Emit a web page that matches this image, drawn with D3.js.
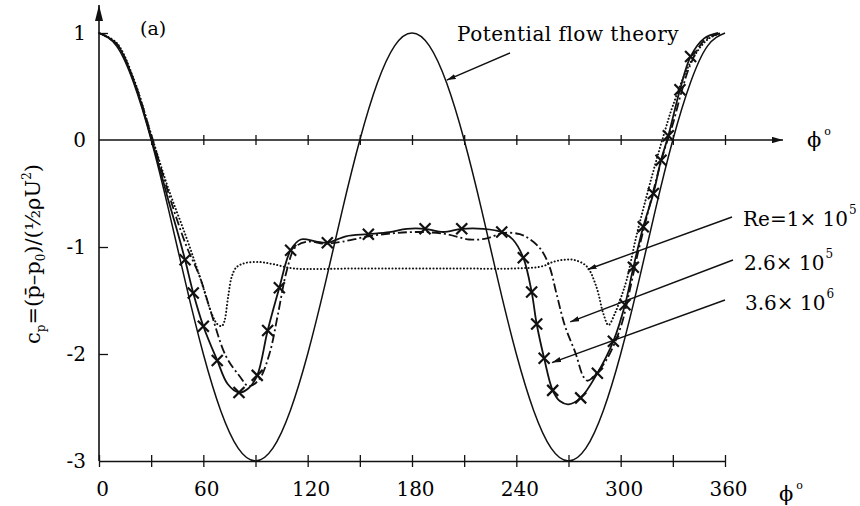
<!DOCTYPE html>
<html>
<head>
<meta charset="utf-8">
<script src="https://cdn.jsdelivr.net/npm/d3@7"></script>
<style>
  body { margin: 0; background: #fff; }
  text { font-family: "DejaVu Serif", serif; fill: #000; }
</style>
</head>
<body>
<div id="chart"></div>
<script>
// Values (phi in degrees, cp)
const potentialPhi = [0, 10, 20, 30, 40, 50, 60, 70, 80, 90, 100, 110, 120, 130, 140, 150, 160, 170, 180,
    190, 200, 210, 220, 230, 240, 250, 260, 270, 280, 290, 300, 310, 320, 330, 340, 350, 360];
const potentialCp = [1, 0.88, 0.53, 0, -0.65, -1.35, -2, -2.53, -2.88, -3, -2.88, -2.53, -2, -1.35, -0.65, 0, 0.53, 0.88, 1,
    0.88, 0.53, 0, -0.65, -1.35, -2, -2.53, -2.88, -3, -2.88, -2.53, -2, -1.35, -0.65, 0, 0.53, 0.88, 1];

// Re = 1 x 10^5 (dotted)
const re1Phi = [0, 10, 20, 30, 40, 50, 58, 65, 68, 70.5, 72, 74.3, 76.3, 79, 84, 92, 100, 112, 150, 200, 240,
    255, 261, 267, 273, 280.4, 286, 290, 293, 296.7, 300, 303.4, 309, 315, 320, 325, 330, 340, 350, 358];
const re1Cp = [1, 0.91, 0.57, 0.05, -0.46, -0.9, -1.28, -1.63, -1.72, -1.74, -1.7, -1.46, -1.28, -1.19, -1.15, -1.14, -1.16, -1.2, -1.2, -1.2, -1.2,
    -1.18, -1.14, -1.12, -1.12, -1.18, -1.37, -1.62, -1.73, -1.62, -1.48, -1.31, -0.9, -0.52, -0.22, 0.06, 0.32, 0.72, 0.94, 1];

// Re = 2.6 x 10^5 (dash-dot)
const re26Phi = [0, 10, 20, 30, 40, 50, 58, 64, 73, 81, 86, 92, 98, 103, 108, 113, 120, 130, 140, 155, 170, 185, 200,
    213, 223, 232, 242, 248, 254, 259, 263, 268, 274, 278.5, 281, 285, 292, 300, 305, 310, 315, 320, 325, 330, 335, 340, 348, 358];
const re26Cp = [1, 0.9, 0.56, 0.05, -0.5, -0.98, -1.28, -1.59, -2.02, -2.21, -2.3, -2.24, -2.0, -1.62, -1.22, -1.0, -0.95, -0.97, -0.95, -0.9, -0.87, -0.86, -0.88,
    -0.93, -0.92, -0.87, -0.88, -0.93, -1.02, -1.18, -1.43, -1.74, -1.99, -2.21, -2.25, -2.2, -2.05, -1.75, -1.42, -1.05, -0.72, -0.4, -0.1, 0.15, 0.45, 0.7, 0.93, 1];

// Re = 3.6 x 10^6 (solid with crosses)
const re36Phi = [0, 10, 20, 30, 40, 45, 49.5, 54.2, 60, 68, 74, 80.5, 86, 91, 97, 103.7, 110.2, 116, 125, 131.3, 142, 154.9, 167, 177,
    187.5, 198, 208.6, 221, 231.6, 238, 244, 248.8, 251.7, 256, 260.9, 265, 270, 277, 286.6, 295.8, 302.5, 307.3, 313, 318.8, 323.2, 327.4, 334.1, 340.2, 348, 356];
const re36Cp = [1, 0.9, 0.55, 0.02, -0.57, -0.85, -1.12, -1.43, -1.74, -2.06, -2.28, -2.36, -2.32, -2.2, -1.78, -1.38, -1.03, -0.93, -0.95, -0.96, -0.9, -0.88, -0.86, -0.83,
    -0.83, -0.86, -0.83, -0.83, -0.86, -0.93, -1.1, -1.42, -1.72, -2.04, -2.34, -2.44, -2.47, -2.41, -2.18, -1.88, -1.54, -1.19, -0.81, -0.5, -0.19, 0.04, 0.47, 0.78, 0.95, 1];

// measured points marked with crosses
const markerPhi = [49.5, 54.2, 60, 68, 80.5, 91, 97, 103.7, 110.2, 131.3, 154.9, 187.5, 208.6, 231.6,
    244, 248.8, 251.7, 256, 260.9, 277, 286.6, 295.8, 302.5, 307.3, 313, 318.8, 323.2, 327.4, 334.1, 340.2];
const markerCp = [-1.12, -1.43, -1.74, -2.06, -2.36, -2.2, -1.78, -1.38, -1.03, -0.96, -0.88, -0.83, -0.83, -0.86,
    -1.1, -1.42, -1.72, -2.04, -2.34, -2.41, -2.18, -1.88, -1.54, -1.19, -0.81, -0.5, -0.19, 0.04, 0.47, 0.78];

const xTicks = [0, 30, 60, 90, 120, 150, 180, 210, 240, 270, 300, 330, 360];
const xLabels = [0, 60, 120, 180, 240, 300, 360];
const yLabels = [1, 0, -1, -2, -3];

const reLabels = ["Re=1\u00d7 10", "2.6\u00d7 10", "3.6\u00d7 10"];
const reExponents = ["5", "5", "6"];

// Set up the dimensions of the chart
const margin = { top: 33, right: 135, bottom: 45, left: 99 };
const width = 860 - margin.left - margin.right;
const height = 506 - margin.top - margin.bottom;

const root = d3.select("#chart")
    .append("svg")
    .attr("width", width + margin.left + margin.right)
    .attr("height", height + margin.top + margin.bottom);

const defs = root.append("defs");
function arrowMarker(id, len, half) {
    defs.append("marker")
        .attr("id", id)
        .attr("viewBox", `0 ${-half} ${len} ${2 * half}`)
        .attr("refX", len)
        .attr("refY", 0)
        .attr("markerUnits", "userSpaceOnUse")
        .attr("markerWidth", len)
        .attr("markerHeight", 2 * half)
        .attr("orient", "auto")
        .append("path")
        .attr("d", `M0,${-half}L${len},0L0,${half}Z`)
        .attr("fill", "#111");
}
arrowMarker("arrow-y", 16, 4);
arrowMarker("arrow-x", 11, 3.2);
arrowMarker("arrow-label", 9, 2.6);

const svg = root.append("g")
    .attr("transform", "translate(" + margin.left + "," + margin.top + ")");

const x = d3.scaleLinear().domain([0, 360]).range([0, width]);
const y = d3.scaleLinear().domain([-3, 1]).range([height, 0]);

// Bottom axis (ticks cross the line)
const xAxis = d3.axisBottom(x)
    .tickValues(xTicks)
    .tickFormat(d => xLabels.includes(d) ? d : "")
    .tickSize(6)
    .tickSizeOuter(0)
    .tickPadding(15);

const gx = svg.append("g")
    .attr("transform", "translate(0," + height + ")")
    .call(xAxis);
gx.select(".domain").attr("stroke", "#111").attr("stroke-width", 1.6);
gx.selectAll(".tick line").attr("y1", -6).attr("stroke", "#111").attr("stroke-width", 1.3);
gx.selectAll(".tick text")
    .attr("dx", 3)
    .style("font-size", "20px")
    .style("font-family", "DejaVu Serif, serif");

// Zero line with ticks and arrow
const zeroAxis = d3.axisBottom(x)
    .tickValues(xTicks.slice(1))
    .tickFormat("")
    .tickSize(5)
    .tickSizeOuter(0);
const gz = svg.append("g")
    .attr("transform", "translate(0," + y(0) + ")")
    .call(zeroAxis);
gz.select(".domain").remove();
gz.selectAll(".tick line").attr("y1", -5).attr("stroke", "#111").attr("stroke-width", 1.3);
svg.append("line")
    .attr("x1", 0).attr("x2", width + 58)
    .attr("y1", y(0)).attr("y2", y(0))
    .attr("stroke", "#111").attr("stroke-width", 1.5)
    .attr("marker-end", "url(#arrow-x)");

// Y axis with arrow
svg.append("line")
    .attr("x1", 0).attr("x2", 0)
    .attr("y1", height).attr("y2", -28)
    .attr("stroke", "#111").attr("stroke-width", 1.6)
    .attr("marker-end", "url(#arrow-y)");

const gy = svg.append("g")
    .call(d3.axisLeft(y).tickValues(yLabels).tickSize(0).tickPadding(13).tickFormat(d => String(d)));
gy.select(".domain").remove();
gy.selectAll(".tick text")
    .style("font-size", "20px")
    .style("font-family", "DejaVu Serif, serif");

const gyTicks = svg.append("g")
    .call(d3.axisRight(y).tickValues([1, -1, -2]).tickSize(9).tickFormat(""));
gyTicks.select(".domain").remove();
gyTicks.selectAll(".tick line").attr("stroke", "#111").attr("stroke-width", 1.3);

// Curves
const line = d3.line()
    .x(d => x(d[0]))
    .y(d => y(d[1]));

const zip = (a, b) => a.map((v, i) => [v, b[i]]);

svg.append("path")
    .datum(zip(potentialPhi, potentialCp))
    .attr("fill", "none")
    .attr("stroke", "#111")
    .attr("stroke-width", 1.5)
    .attr("d", line.curve(d3.curveNatural));

svg.append("path")
    .datum(zip(re1Phi, re1Cp))
    .attr("fill", "none")
    .attr("stroke", "#111")
    .attr("stroke-width", 2)
    .attr("stroke-linecap", "round")
    .attr("stroke-dasharray", "0.1,3.3")
    .attr("d", line.curve(d3.curveCatmullRom.alpha(0.5)));

svg.append("path")
    .datum(zip(re26Phi, re26Cp))
    .attr("fill", "none")
    .attr("stroke", "#111")
    .attr("stroke-width", 1.8)
    .attr("stroke-dasharray", "9,3,2,3")
    .attr("d", line.curve(d3.curveCatmullRom.alpha(0.5)));

svg.append("path")
    .datum(zip(re36Phi, re36Cp))
    .attr("fill", "none")
    .attr("stroke", "#111")
    .attr("stroke-width", 1.8)
    .attr("d", line.curve(d3.curveCatmullRom.alpha(0.5)));

svg.selectAll(".cross")
    .data(zip(markerPhi, markerCp))
    .enter()
    .append("path")
    .attr("class", "cross")
    .attr("transform", d => "translate(" + x(d[0]) + "," + y(d[1]) + ")")
    .attr("d", "M-5.5,-5.5L5.5,5.5M-5.5,5.5L5.5,-5.5")
    .attr("stroke", "#111")
    .attr("stroke-width", 2.2)
    .attr("fill", "none");

// Axis titles
function phiLabel(px, py) {
    const t = svg.append("text").attr("x", px).attr("y", py).style("font-size", "21px");
    t.append("tspan").text("\u03d5");
    t.append("tspan").attr("dx", 3).attr("dy", -12).style("font-size", "11px").text("o");
}
phiLabel(width + 82, y(0) + 7);
phiLabel(width + 54, height + 40);

const yTitle = svg.append("text")
    .attr("transform", "translate(" + (40 - margin.left) + "," + (254 - margin.top) + ") rotate(-90)")
    .attr("text-anchor", "middle")
    .style("font-size", "21px");
yTitle.append("tspan").text("c");
yTitle.append("tspan").attr("dy", 5).style("font-size", "12px").text("p");
yTitle.append("tspan").attr("dy", -5).text("=(p\u0304\u2013p");
yTitle.append("tspan").attr("dy", 5).style("font-size", "12px").text("0");
yTitle.append("tspan").attr("dy", -5).text(")/(\u00bd\u03c1U");
yTitle.append("tspan").attr("dy", -9).style("font-size", "12px").text("2");
yTitle.append("tspan").attr("dy", 9).text(")");

svg.append("text")
    .attr("x", 140 - margin.left).attr("y", 35 - margin.top)
    .style("font-size", "19px")
    .text("(a)");

// Annotations
svg.append("text")
    .attr("x", 457 - margin.left).attr("y", 41 - margin.top)
    .style("font-size", "20px")
    .style("letter-spacing", "0.5px")
    .text("Potential flow theory");
svg.append("line")
    .attr("x1", 510 - margin.left).attr("y1", 53 - margin.top)
    .attr("x2", x(200)).attr("y2", y(0.56))
    .attr("stroke", "#111").attr("stroke-width", 1.4)
    .attr("marker-end", "url(#arrow-label)");

const labelPos = [
    { tx: 743, ty: 226, lx: 732, ly: 217, phi: 281, cp: -1.21 },
    { tx: 744, ty: 270, lx: 733, ly: 260, phi: 271, cp: -1.70 },
    { tx: 745, ty: 310, lx: 725, ly: 300, phi: 260.5, cp: -2.08 }
];
labelPos.forEach((p, i) => {
    svg.append("line")
        .attr("x1", p.lx - margin.left).attr("y1", p.ly - margin.top)
        .attr("x2", x(p.phi)).attr("y2", y(p.cp))
        .attr("stroke", "#111").attr("stroke-width", 1.4)
        .attr("marker-end", "url(#arrow-label)");
    const t = svg.append("text")
        .attr("x", p.tx - margin.left).attr("y", p.ty - margin.top)
        .style("font-size", "20px");
    t.append("tspan").text(reLabels[i]);
    t.append("tspan").attr("dx", 1).attr("dy", -12).style("font-size", "12px").text(reExponents[i]);
});
</script>
</body>
</html>
